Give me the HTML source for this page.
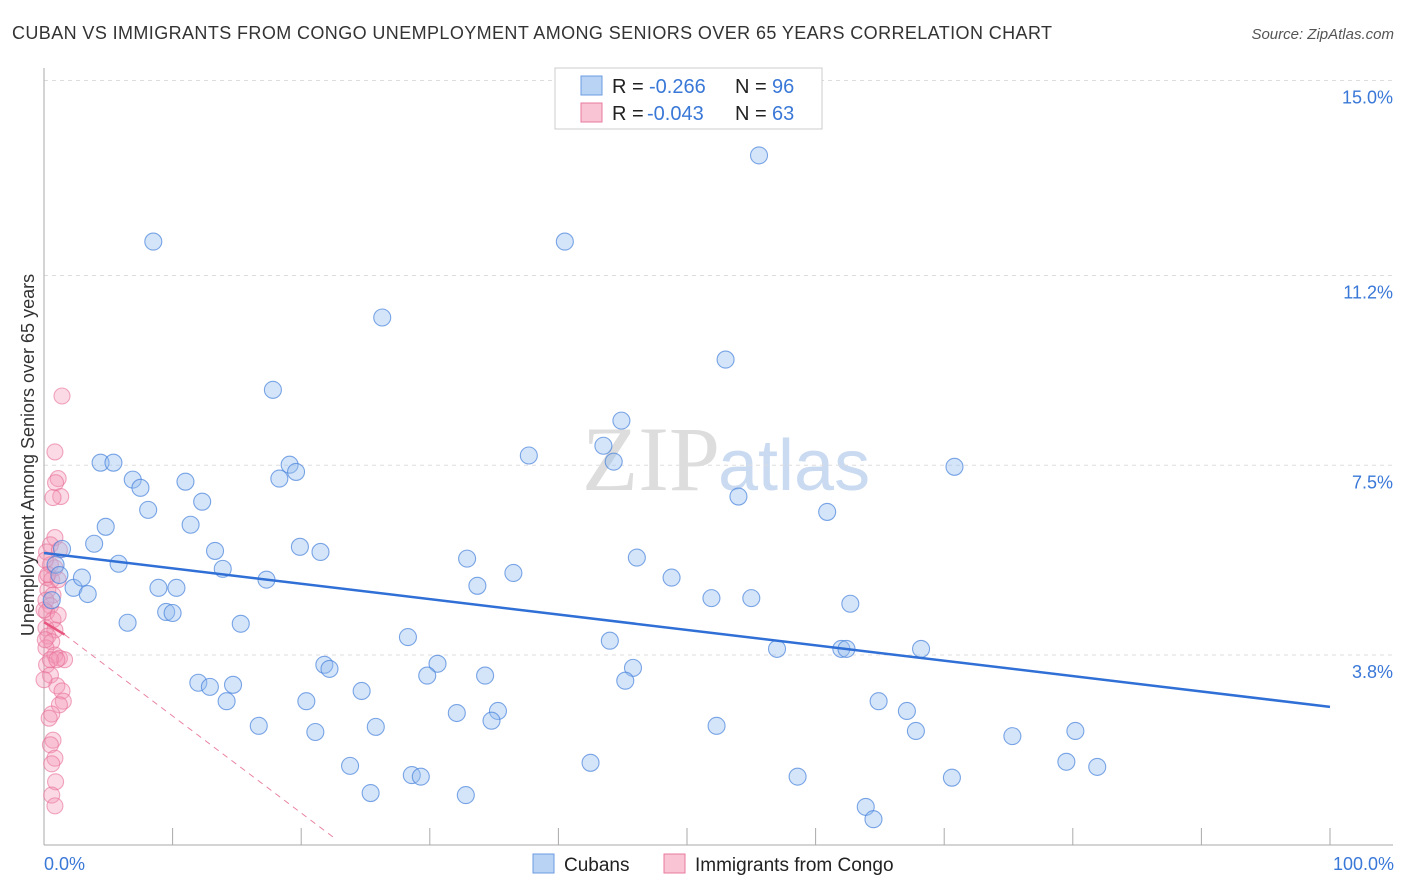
<!DOCTYPE html>
<html><head><meta charset="utf-8"><style>
body{margin:0;background:#fff;font-family:"Liberation Sans",sans-serif}
svg{display:block}
</style></head><body>
<svg id="chart" width="1406" height="892">
<text x="12" y="39" font-size="18" fill="#333" letter-spacing="0.4">CUBAN VS IMMIGRANTS FROM CONGO UNEMPLOYMENT AMONG SENIORS OVER 65 YEARS CORRELATION CHART</text>
<text x="1394" y="39" font-size="15" fill="#555" text-anchor="end" font-style="italic">Source: ZipAtlas.com</text>
<text x="720" y="490" font-size="92" fill="#ddd" text-anchor="end" font-family="Liberation Serif,serif">ZIP</text>
<text x="718" y="490" font-size="72" fill="#c9daf1">atlas</text>
<g id="grid"></g><g id="axes"></g><g id="pts"></g><g id="lines"></g>
<text transform="translate(34,455) rotate(-90)" font-size="18" fill="#333" text-anchor="middle">Unemployment Among Seniors over 65 years</text>
<text x="44" y="870" font-size="18" fill="#3a78d8">0.0%</text>
<text x="1394" y="870" font-size="18" fill="#3a78d8" text-anchor="end">100.0%</text>
<g>
<rect x="555" y="68" width="267" height="61" fill="#fff" stroke="#ccc"/>
<rect x="581" y="76" width="21" height="19" fill="#b9d3f5" stroke="#6a9be0"/>
<text x="612" y="93" font-size="20" fill="#222">R =</text><text x="649" y="93" font-size="20" fill="#3a78d8">-0.266</text>
<text x="735" y="93" font-size="20" fill="#222">N =</text><text x="772" y="93" font-size="20" fill="#3a78d8">96</text>
<rect x="581" y="103" width="21" height="19" fill="#f9c4d3" stroke="#e87a9c"/>
<text x="612" y="120" font-size="20" fill="#222">R =</text><text x="647" y="120" font-size="20" fill="#3a78d8">-0.043</text>
<text x="735" y="120" font-size="20" fill="#222">N =</text><text x="772" y="120" font-size="20" fill="#3a78d8">63</text>
</g>
<g>
<rect x="533" y="854" width="21" height="19" fill="#b9d3f5" stroke="#6a9be0"/>
<text x="564" y="871" font-size="19" fill="#222">Cubans</text>
<rect x="664" y="854" width="21" height="19" fill="#f9c4d3" stroke="#e87a9c"/>
<text x="695" y="871" font-size="19" fill="#222">Immigrants from Congo</text>
</g>
</svg>
<script>
const yTicks=[15.0,11.2,7.5,3.8];
const yTickLabels=["15.0%","11.2%","7.5%","3.8%"];
const xTicks=[10,20,30,40,50,60,70,80,90,100];
const cubanX=[8.5,40.5,55.6,26.3,53.0,17.8,44.9,43.5,44.3,37.7,70.8,4.4,5.4,6.9,7.5,11.0,19.1,19.6,18.3,12.3,8.1,4.8,11.4,54.0,60.9,3.9,1.4,5.8,13.3,13.9,19.9,21.5,32.9,36.5,46.1,48.8,33.7,17.3,8.9,10.3,2.3,2.95,3.4,9.5,10.0,51.9,55.0,62.7,6.5,15.3,28.3,44.0,57.0,62.0,62.4,68.2,21.8,22.2,30.6,29.8,34.3,45.8,45.2,12.0,12.9,14.7,24.7,14.2,20.4,64.9,67.1,32.1,35.3,34.8,16.7,25.8,52.3,67.8,21.1,80.2,75.3,23.8,42.5,79.5,81.9,28.6,29.3,58.6,70.6,25.4,32.8,63.9,64.5,0.9,1.2,0.6];
const cubanY=[11.86,11.86,13.54,10.38,9.56,8.97,8.37,7.88,7.57,7.69,7.47,7.55,7.55,7.22,7.06,7.18,7.51,7.37,7.24,6.79,6.63,6.30,6.34,6.89,6.59,5.97,5.87,5.58,5.83,5.48,5.91,5.81,5.68,5.40,5.70,5.31,5.15,5.27,5.11,5.11,5.11,5.31,4.99,4.64,4.62,4.91,4.91,4.80,4.43,4.41,4.15,4.08,3.92,3.92,3.92,3.92,3.61,3.53,3.63,3.40,3.40,3.55,3.30,3.26,3.18,3.22,3.10,2.90,2.90,2.90,2.71,2.67,2.71,2.52,2.42,2.40,2.42,2.32,2.30,2.32,2.22,1.64,1.70,1.72,1.62,1.46,1.43,1.43,1.41,1.11,1.07,0.84,0.60,5.56,5.36,4.87];
const congoX=[1.4,0.85,1.1,0.9,1.3,0.7,0.85,0.5,0.2,1.2,0.5,0.85,0.2,0.6,1.1,0.3,0.7,0.15,0.5,0.2,0.7,0.15,0.85,0.3,0.6,0.15,0.85,1.2,1.6,0.2,0.5,1.0,1.4,1.5,1.2,0.6,0.4,0.7,0.5,0.85,0.6,0.9,0.6,0.85,0.1,0.3,0.0,1.1,0.1,0.5,0.0,1.0];
const congoY=[8.85,7.76,7.24,7.16,6.89,6.87,6.09,5.95,5.81,5.85,5.56,5.50,5.31,5.27,5.27,5.07,4.97,4.87,4.76,4.64,4.49,4.33,4.29,4.17,4.06,3.94,3.80,3.74,3.71,3.61,3.41,3.20,3.10,2.90,2.83,2.65,2.57,2.14,2.05,1.79,1.68,1.33,1.07,0.86,5.65,5.37,4.68,4.58,4.10,3.71,3.32,3.71];
const cubanFit=[5.79,2.79];
const congoFit=[4.44,4.2,0.23];
const congoFitX=[0,1.6,22.6];
const NS="http://www.w3.org/2000/svg";
const X=v=>44+12.86*v, Y=v=>850-51.3*v;
function mk(tag,attrs,parent){const e=document.createElementNS(NS,tag);for(const k in attrs)e.setAttribute(k,attrs[k]);parent.appendChild(e);return e;}
const grid=document.getElementById('grid'),axes=document.getElementById('axes'),pts=document.getElementById('pts'),lines=document.getElementById('lines');
yTicks.forEach((t,i)=>{
 const l=mk('line',{x1:44,x2:1393,y1:Y(t),y2:Y(t),stroke:'#ddd','stroke-dasharray':'4,4'},grid);
 
 
 const tx=mk('text',{x:1393,y:Y(t)+23,'font-size':18,fill:'#3a78d8','text-anchor':'end'},grid);
 tx.textContent=yTickLabels[i];
 
 
});
const ya=mk('line',{x1:44,x2:44,y1:68,y2:845,stroke:'#aaa'},axes);


const xa=mk('line',{x1:44,x2:1393,y1:845,y2:845,stroke:'#aaa'},axes);


xTicks.forEach(t=>{
 const l=mk('line',{x1:X(t),x2:X(t),y1:828,y2:845,stroke:'#aaa'},axes);
 
 
});
congoX.forEach((v,i)=>{
 const c=mk('circle',{cx:X(v),cy:Y(congoY[i]),r:8,fill:'rgba(244,150,180,0.35)',stroke:'rgba(232,110,150,0.6)','stroke-width':1.1},pts);
 
 
});
cubanX.forEach((v,i)=>{
 const c=mk('circle',{cx:X(v),cy:Y(cubanY[i]),r:8.5,fill:'rgba(150,190,240,0.4)',stroke:'rgba(70,130,220,0.7)','stroke-width':1.1},pts);
 
 
});
const bl=mk('line',{x1:X(0),y1:Y(cubanFit[0]),x2:X(100),y2:Y(cubanFit[1]),stroke:'#2f6fd6','stroke-width':2.5},lines);


const pl=mk('line',{x1:X(congoFitX[0]),y1:Y(congoFit[0]),x2:X(congoFitX[1]),y2:Y(congoFit[1]),stroke:'#e8557f','stroke-width':2.5},lines);


const pd=mk('line',{x1:X(congoFitX[1]),y1:Y(congoFit[1]),x2:X(congoFitX[2]),y2:Y(congoFit[2]),stroke:'#e8809f','stroke-width':1,'stroke-dasharray':'6,5'},lines);


</script>
</body></html>
